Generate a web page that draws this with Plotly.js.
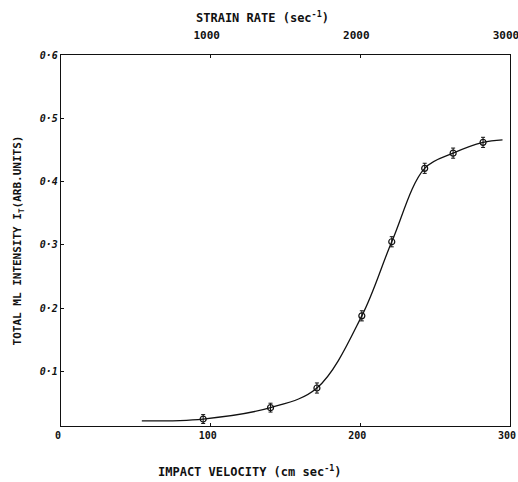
<!DOCTYPE html>
<html>
<head>
<meta charset="utf-8">
<script src="https://cdn.plot.ly/plotly-3.0.1.min.js"></script>
<style>html,body{margin:0;padding:0;background:#fff;}#chart{width:518px;height:482px;}</style>
</head>
<body>
<div id="chart"></div>
<script>
// Measured points: impact velocity (cm/s) vs total ML intensity (arb. units)
const velocity = [95, 140, 171, 201, 221, 243, 262, 282];
const intensity = [0.025, 0.043, 0.074, 0.188, 0.305, 0.421, 0.445, 0.462];
const intensityError = [0.007, 0.007, 0.008, 0.008, 0.008, 0.008, 0.008, 0.008];
// Hand-drawn fitted curve, read along its length
const curveVelocity = [54, 95, 140, 171, 201, 221, 243, 262, 282, 295];
const curveIntensity = [0.022, 0.025, 0.043, 0.074, 0.188, 0.305, 0.421, 0.445, 0.462, 0.466];
// Tick labels
const yTickValues = [0.1, 0.2, 0.3, 0.4, 0.5, 0.6];
const yTickText = ['0·1', '0·2', '0·3', '0·4', '0·5', '0·6'];
const xTickValues = [0, 100, 200, 300];
const xTickText = ['0', '100', '200', '300'];
const strainTickValues = [1000, 2000, 3000];
const strainTickText = ['1000', '2000', '3000'];
// Titles
const xTitle = 'IMPACT VELOCITY (cm sec<sup>-1</sup>)';
const topTitle = 'STRAIN RATE (sec<sup>-1</sup>)';
const yTitle = 'TOTAL ML INTENSITY I<sub>T</sub>(ARB.UNITS)';

const font = 'DejaVu Sans Mono, monospace';

const traces = [
  {
    x: curveVelocity, y: curveIntensity, type: 'scatter', mode: 'lines',
    line: {color: '#111', width: 1.3, shape: 'spline', smoothing: 1},
    hoverinfo: 'skip', showlegend: false
  },
  {
    x: velocity, y: intensity, type: 'scatter', mode: 'markers',
    marker: {symbol: 'circle-open', size: 6, color: '#111', line: {width: 1.2, color: '#111'}},
    error_y: {type: 'data', array: intensityError, visible: true, color: '#111', thickness: 1, width: 2},
    showlegend: false
  },
  {
    // empty trace so the strain-rate axis along the top is drawn
    x: [], y: [], xaxis: 'x2', yaxis: 'y', type: 'scatter', mode: 'markers',
    showlegend: false, hoverinfo: 'skip'
  }
];

const layout = {
  width: 518, height: 482,
  margin: {l: 61, r: 8, t: 55, b: 56},
  paper_bgcolor: '#fff', plot_bgcolor: '#fff',
  font: {family: font, color: '#111', size: 10},
  showlegend: false,
  xaxis: {
    range: [0, 300], tickvals: xTickValues, ticktext: xTickText,
    ticks: 'inside', ticklen: 3, tickcolor: '#111',
    showline: true, linecolor: '#111', linewidth: 1.3, mirror: true,
    showgrid: false, zeroline: false, automargin: false,
    ticklabeloverflow: 'allow', ticklabelshift: -3,
    tickfont: {family: font, size: 10, weight: 'bold'}
  },
  xaxis2: {
    range: [0, 3000], overlaying: 'x', side: 'top', anchor: 'y',
    tickvals: strainTickValues, ticktext: strainTickText,
    ticks: 'inside', ticklen: 3, tickcolor: '#111',
    showline: true, linecolor: '#111', linewidth: 1.3,
    showgrid: false, zeroline: false, automargin: false,
    ticklabeloverflow: 'allow', ticklabelstandoff: 10, ticklabelshift: -4,
    tickfont: {family: font, size: 11, weight: 'bold'}
  },
  yaxis: {
    range: [0.014, 0.6], tickvals: yTickValues, ticktext: yTickText,
    ticks: 'inside', ticklen: 3, tickcolor: '#111',
    showline: true, linecolor: '#111', linewidth: 1.3, mirror: true,
    showgrid: false, zeroline: false, automargin: false,
    tickfont: {family: font, size: 10, style: 'italic', weight: 'bold'},
    title: {text: yTitle, standoff: 15,
            font: {family: font, size: 11, weight: 'bold'}}
  },
  annotations: [
    {text: xTitle, xref: 'paper', yref: 'paper', x: 0.421, y: -0.121,
     xanchor: 'center', yanchor: 'middle', showarrow: false,
     font: {family: font, size: 12, weight: 'bold'}},
    {text: topTitle, xref: 'paper', yref: 'paper', x: 0.448, y: 1.102,
     xanchor: 'center', yanchor: 'middle', showarrow: false,
     font: {family: font, size: 12, weight: 'bold'}}
  ]
};

Plotly.newPlot('chart', traces, layout, {displayModeBar: false, staticPlot: true});
</script>
</body>
</html>
